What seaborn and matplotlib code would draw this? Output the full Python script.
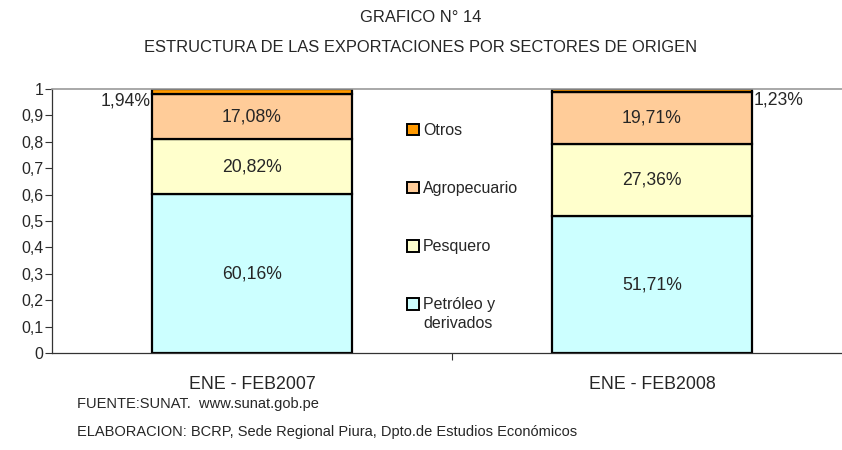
import matplotlib
matplotlib.use("Agg")
import matplotlib.pyplot as plt
import seaborn as sns
import pandas as pd
import numpy as np
from matplotlib.patches import Patch
from matplotlib.ticker import FuncFormatter

periods = ["ENE - FEB2007", "ENE - FEB2008"]
sectors = ["Petróleo y", "Pesquero", "Agropecuario", "Otros"]
petroleo = [60.16, 51.71]
pesquero = [20.82, 27.36]
agro = [17.08, 19.71]
otros = [1.94, 1.23]
colors = ["#CCFFFF", "#FFFFCC", "#FFCC99", "#FF9900"]

sns.set_theme(style="white")
plt.rcParams['font.family'] = ['Liberation Sans', 'DejaVu Sans']

fig = plt.figure(figsize=(8.42, 4.5), dpi=100)
ax = fig.add_axes([52/842, 1 - 353/450, 790/842, 264/450])

series = [petroleo, pesquero, agro, otros]
bottom = np.zeros(len(periods))
for vals, col in zip(series, colors):
    df = pd.DataFrame({"period": periods, "value": np.array(vals) / 100})
    sns.barplot(data=df, x="period", y="value", color=col, ax=ax, width=0.5,
                bottom=bottom, edgecolor="black", linewidth=1.6,
                saturation=1)
    bottom = bottom + np.array(vals) / 100

def fmt(v):
    return f"{v:.2f}".replace(".", ",") + "%"

LBL = 12.7
bottom = np.zeros(len(periods))
for k, vals in enumerate(series):
    for i, v in enumerate(vals):
        f = v / 100
        if k < 3:
            ax.text(i, bottom[i] + f / 2, fmt(v), ha="center", va="center", fontsize=LBL)
    bottom = bottom + np.array(vals) / 100
ax.text(0 - 0.25 - 0.003, 0.955, fmt(otros[0]), ha="right", va="center", fontsize=LBL)
ax.text(1 + 0.25 + 0.003, 0.96, fmt(otros[1]), ha="left", va="center", fontsize=LBL)

ax.set_xlim(-0.5, 1.475)
ax.set_ylim(0, 1)
ax.set_yticks(np.arange(0, 1.01, 0.1))
ax.yaxis.set_major_formatter(FuncFormatter(lambda v, p: ("%g" % round(v, 1)).replace(".", ",")))
ax.set_xticks([0, 1])
ax.set_xticks([0.5], minor=True)
ax.tick_params(axis="x", which="major", length=0, labelsize=12.8, pad=16.5)
ax.tick_params(axis="x", which="minor", length=5, direction="out", width=0.8, color="#333333", bottom=True)
ax.tick_params(axis="y", length=5, width=0.8, direction="out", labelsize=11.5, pad=1, color="#333333", left=True)
ax.set_xlabel("")
ax.set_ylabel("")
for s in ["left", "bottom"]:
    ax.spines[s].set_color("#333333")
    ax.spines[s].set_linewidth(0.9)
ax.spines["top"].set_color("#999999")
ax.spines["top"].set_linewidth(1.2)
ax.spines["right"].set_visible(False)

fig.text(421/842, 1 - 17/450, "GRAFICO N° 14", ha="center", va="center", fontsize=11.9)
fig.text(421/842, 1 - 47/450, "ESTRUCTURA DE LAS EXPORTACIONES POR SECTORES DE ORIGEN", ha="center", va="center", fontsize=11.9)

LEG = 11.5
handles = [Patch(facecolor=c, edgecolor="black", linewidth=1.4) for c in colors[::-1]]
leg = fig.legend(handles, sectors[::-1], loc="upper left", bbox_to_anchor=(407/842, 1 - 123/450),
                 frameon=False, fontsize=LEG, labelspacing=2.7, handlelength=0.75, handleheight=0.75,
                 handletextpad=0.25, borderpad=0, borderaxespad=0)
fig.text(423/842, 1 - 324/450, "derivados", ha="left", va="center", fontsize=LEG)

fig.text(77/842, 1 - 404/450, "FUENTE:SUNAT.  www.sunat.gob.pe", ha="left", va="center", fontsize=10.5)
fig.text(77/842, 1 - 432/450, "ELABORACION: BCRP, Sede Regional Piura, Dpto.de Estudios Económicos", ha="left", va="center", fontsize=10.5)

fig.savefig("out.png", dpi=100)
